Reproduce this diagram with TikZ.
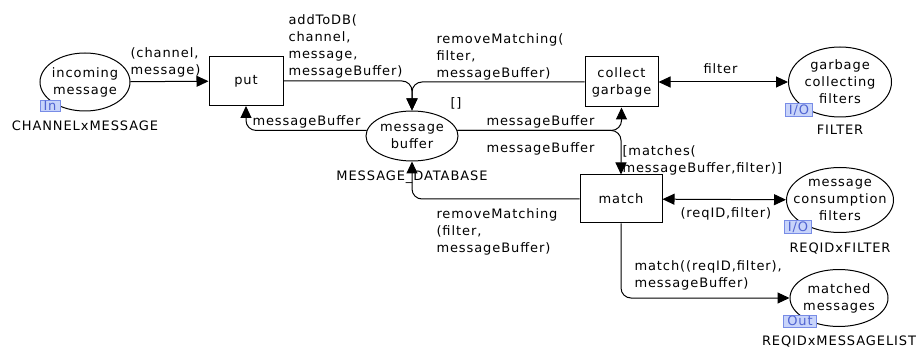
\documentclass[tikz,border=0pt]{standalone}
\usepackage{fontspec}
\setmainfont[LetterSpace=7]{DejaVu Sans}
\usepackage{tikz}
\usetikzlibrary{arrows.meta,positioning}
\usetikzlibrary{shapes.geometric}
\definecolor{tagfill}{RGB}{200,212,250}
\definecolor{tagline}{RGB}{120,140,230}
\definecolor{tagtext}{RGB}{80,100,210}
\newcommand\netfont{\fontsize{13}{17}\selectfont}

\begin{document}
\begin{tikzpicture}[x=1pt,y=-1pt,font=\netfont,line width=1pt]%
        \useasboundingbox (0,0) rectangle (920,347);%%
        \tikzset{arc/.style={-{Triangle[length=12pt,width=11pt]},rounded corners=10pt},%%
                 botharc/.style={{Triangle[length=12pt,width=11pt]}-{Triangle[length=12pt,width=11pt]}},%%
                 inscr/.style={anchor=north west,inner sep=0,align=left},%%
                 colset/.style={anchor=north,inner sep=0},%%
                 placename/.style={label={[align=center,inner sep=0]center:#1}},%%
                 porttag/.style={draw=tagline,fill=tagfill,text=tagtext,inner xsep=3.5pt,inner ysep=1pt,line width=.8pt}}%%
        % places (names set as labels so the ellipse keeps its size)
        \begin{scope}[shape=ellipse,inner sep=0]
        \tikzstyle{every node}=[draw,fill=white] %%
        \node[minimum width=90,minimum height=58,placename={incoming\\message}] (im) at (85,82)  {}; %%
        \node[minimum width=92,minimum height=50,placename={message\\buffer}] (mb) at (412,136)  {}; %%
        \node[minimum width=103,minimum height=70,placename={garbage\\collecting\\filters}] (gcf) at (840,82)  {}; %%
        \node[minimum width=107,minimum height=65,placename={message\\consumption\\filters}] (mcf) at (840,200)  {}; %%
        \node[minimum width=98,minimum height=57,placename={matched\\messages}] (mm) at (839,298)  {}; %%
        \end{scope}
        % transitions
        \begin{scope}[shape=rectangle,inner sep=0]
        \tikzstyle{every node}=[draw,align=center,fill=white] %%
        \node[minimum width=74,minimum height=49] (put) at (246,81)  {put}; %%
        \node[minimum width=73,minimum height=50] (cg) at (621.5,82)  {collect\\garbage}; %%
        \node[minimum width=82,minimum height=48] (match) at (621,199)  {match}; %%
        \end{scope}
        % port tags and colour sets
        \node[porttag] (imtag) at (50,106)  {In}; %%
        \node[porttag] (gcftag) at (799,110)  {I/O}; %%
        \node[porttag] (mcftag) at (798,227)  {I/O}; %%
        \node[porttag] (mmtag) at (800,321)  {Out}; %%
        \node[colset] (imcs) at (85,120)  {CHANNELxMESSAGE}; %%
        \node[colset] (mbcs) at (412,170)  {MESSAGE\_DATABASE}; %%
        \node[colset] (gcfcs) at (840,125)  {FILTER}; %%
        \node[colset] (mcfcs) at (840,242)  {REQIDxFILTER}; %%
        \node[colset] (mmcs) at (839,335)  {REQIDxMESSAGELIST}; %%
        \node[inscr] (mbinit) at (450,97)  {[]}; %%
        % arcs
        \draw[arc] (im)--(put);  %%
        \draw[arc] (put.east) -| (mb.north);  %%
        \draw[arc] (cg.west) -| (mb.north);  %%
        \draw[arc] (mb.173) -| (put.south);  %%
        \draw[arc] (mb.7) -| (cg.south);  %%
        \draw[arc] (mb.7) -| (match.north);  %%
        \draw[arc] (match.west) -| (mb.south);  %%
        \draw[arc] (match.south) |- (mm.west);  %%
        \draw[botharc] (cg)--(gcf);  %%
        \draw[botharc] (match)--(mcf);  %%
        % arc inscriptions
        \node[inscr] at (130,47)  {(channel,\\message)}; %%
        \node[inscr] at (288,14)  {addToDB(\\channel,\\message,\\messageBuffer)}; %%
        \node[inscr] at (436,33)  {removeMatching(\\filter,\\messageBuffer)}; %%
        \node[inscr] at (252,115)  {messageBuffer}; %%
        \node[inscr] at (486,115)  {messageBuffer}; %%
        \node[inscr] at (486,142)  {messageBuffer}; %%
        \node[inscr] at (703,63)  {filter}; %%
        \node[inscr] at (622,145)  {[matches(\\messageBuffer,filter)]}; %%
        \node[inscr] at (680,207)  {(reqID,filter)}; %%
        \node[inscr] at (634,260)  {match((reqID,filter),\\messageBuffer)}; %%
        \node[inscr] at (436,208)  {removeMatching\\(filter,\\messageBuffer)}; %%
        \end{tikzpicture}
\end{document}
